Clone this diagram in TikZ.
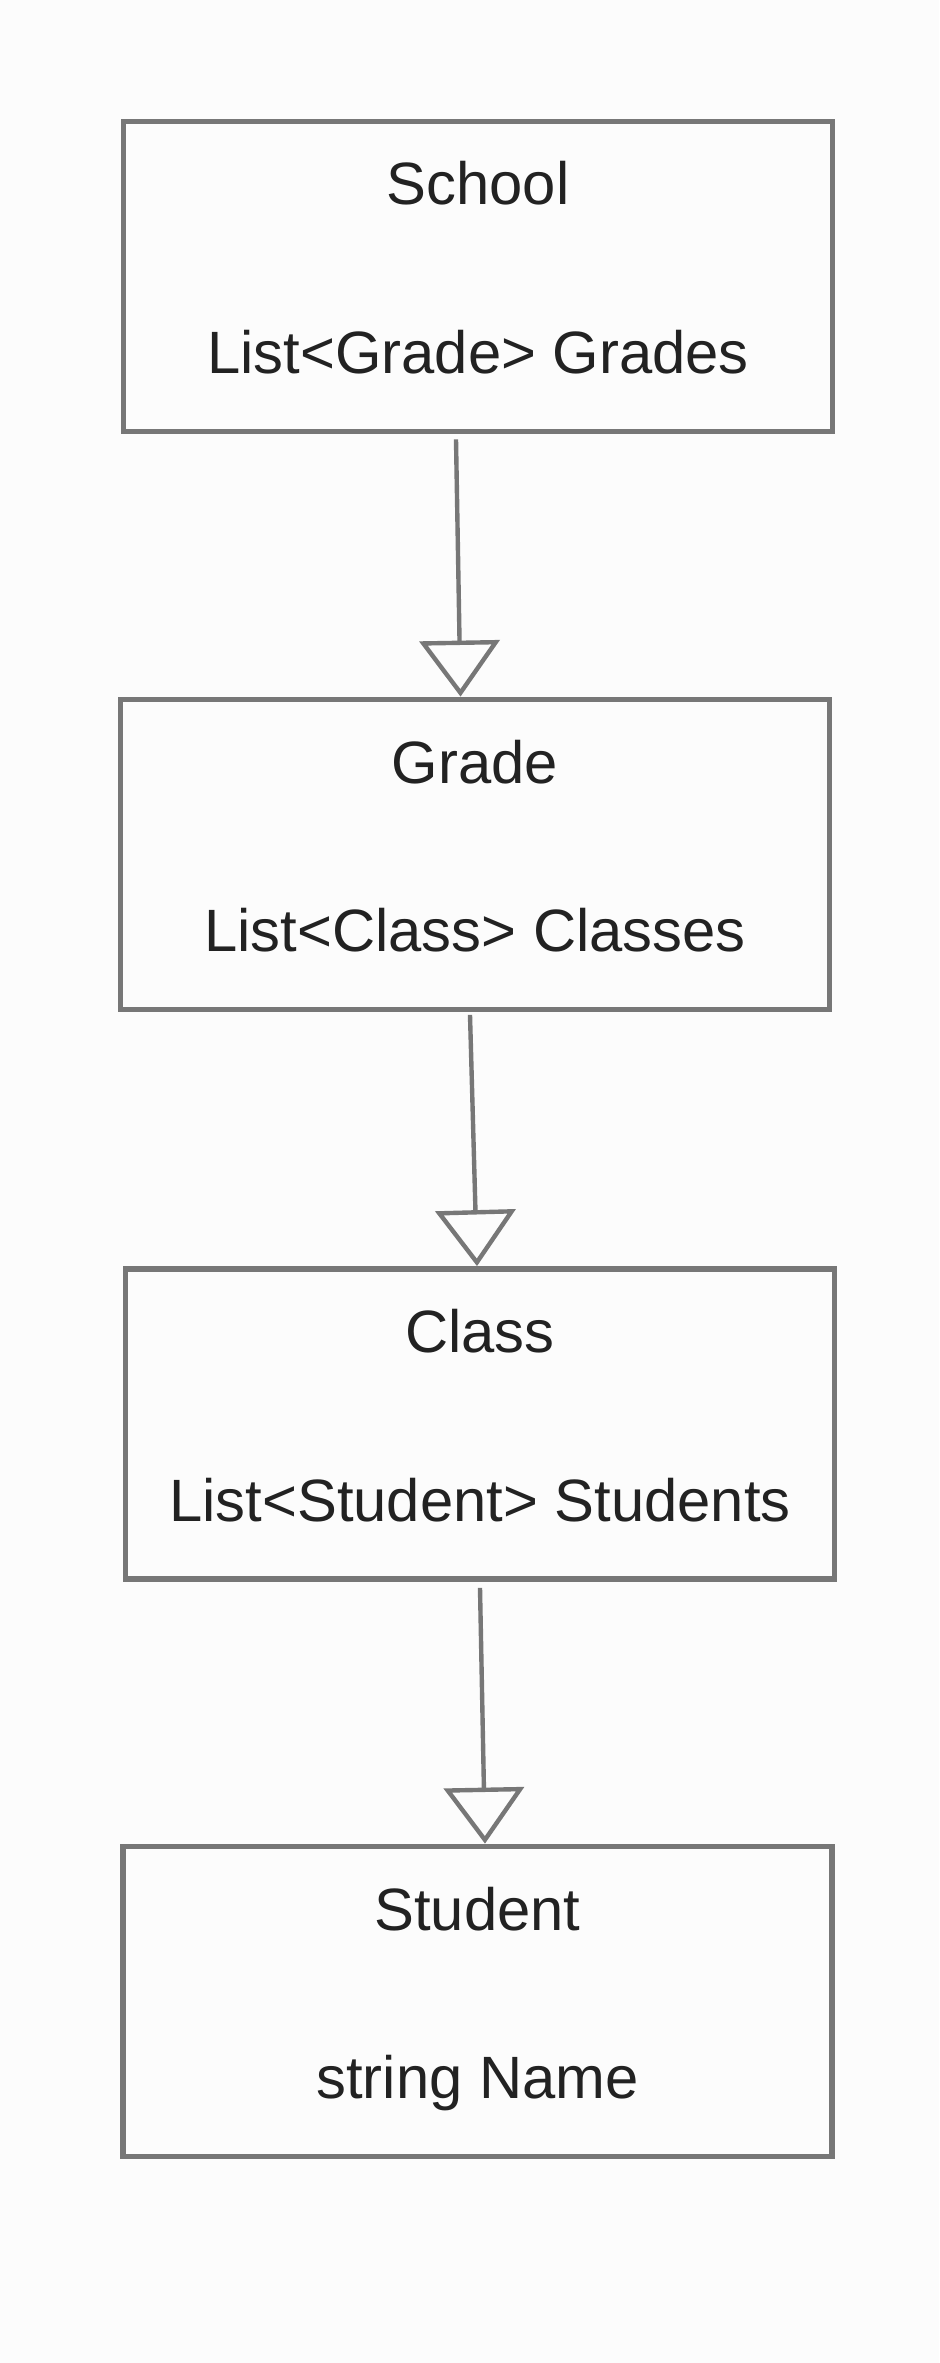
\documentclass[tikz,border=0pt]{standalone}
\usepackage{fontspec}
\setmainfont{Liberation Sans}
\usetikzlibrary{arrows.meta}
\definecolor{linegray}{HTML}{777777}
\definecolor{textgray}{HTML}{222222}
\definecolor{paper}{HTML}{FCFCFC}

\begin{document}
\begin{tikzpicture}[classbox/.style={rectangle, draw=linegray, line width=3.3pt, minimum width=14.18cm, minimum height=6.2cm},
  member/.style={anchor=base, text=textgray, inner sep=0pt, font=\fontsize{34}{40}\selectfont},
  inherit/.style={draw=linegray, line width=2.5pt, -{Triangle[open, length=1.12cm, width=1.6cm]}}]

\fill[paper] (0,0) rectangle (18.78,-47.26);
\useasboundingbox (0,0) rectangle (18.78,-47.26);

\node[classbox] (school) at (9.56,-5.53) {};
\node[member] (schoolname) at ([yshift=1.43cm]school.center) {School};
\node[member] (schoolfield) at ([yshift=-1.94cm]school.center) {List<Grade> Grades};

\node[classbox] (grade) at (9.5,-17.09) {};
\node[member] (gradename) at ([yshift=1.43cm]grade.center) {Grade};
\node[member] (gradefield) at ([yshift=-1.94cm]grade.center) {List<Class> Classes};

\node[classbox] (class) at (9.6,-28.48) {};
\node[member] (classname) at ([yshift=1.43cm]class.center) {Class};
\node[member] (classfield) at ([yshift=-1.94cm]class.center) {List<Student> Students};

\node[classbox] (student) at (9.55,-40.03) {};
\node[member] (studentname) at ([yshift=1.43cm]student.center) {Student};
\node[member] (studentfield) at ([yshift=-1.94cm]student.center) {string Name};

\draw[inherit] ([xshift=-0.44cm, yshift=-0.1cm]school.south) -- ([xshift=-0.29cm]grade.north);
\draw[inherit] ([xshift=-0.1cm, yshift=-0.05cm]grade.south) -- ([xshift=-0.06cm]class.north);
\draw[inherit] ([yshift=-0.12cm]class.south) -- ([xshift=0.15cm]student.north);

\end{tikzpicture}
\end{document}
